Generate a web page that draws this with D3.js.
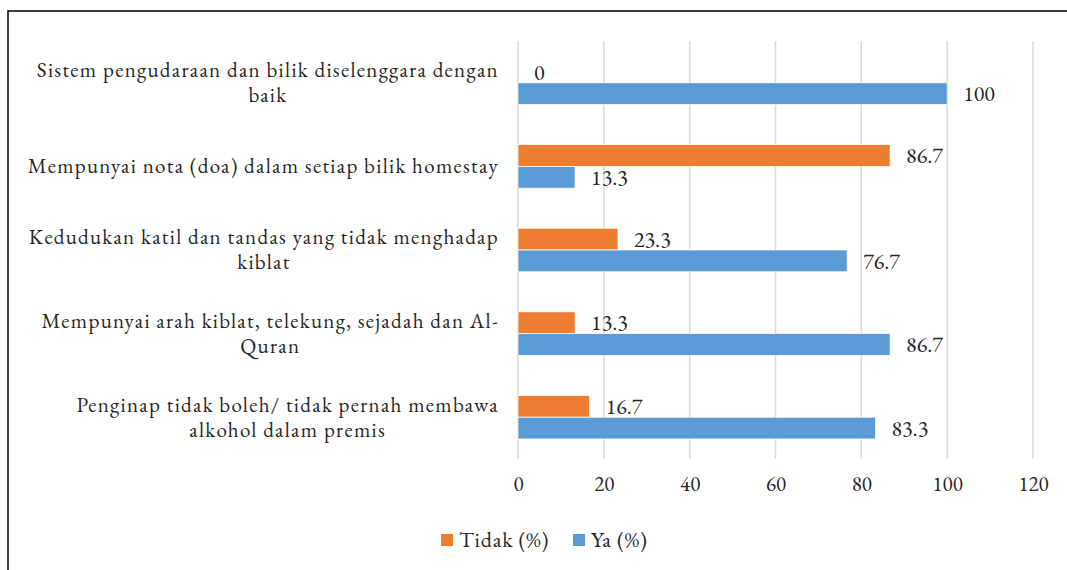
<!DOCTYPE html>
<html>
<head>
<meta charset="utf-8">
<script src="https://cdn.jsdelivr.net/npm/d3@7"></script>
<style>
  body { margin: 0; background: #fff; }
  text { font-family: "EB Garamond", Garamond, "Liberation Serif", "DejaVu Serif", serif; fill: #262626; }
</style>
</head>
<body>
<div id="chart"></div>
<script>
// Categories (top to bottom), each split into its wrapped lines
var categories = [
    ["Sistem pengudaraan dan bilik diselenggara dengan", "baik"],
    ["Mempunyai nota (doa) dalam setiap bilik homestay"],
    ["Kedudukan katil dan tandas yang tidak menghadap", "kiblat"],
    ["Mempunyai arah kiblat, telekung, sejadah dan Al-", "Quran"],
    ["Penginap tidak boleh/ tidak pernah membawa", "alkohol dalam premis"]
];
var tidak = [0, 86.7, 23.3, 13.3, 16.7];
var ya = [100, 13.3, 76.7, 86.7, 83.3];
var seriesNames = ["Tidak (%)", "Ya (%)"];
var seriesColors = ["#ed7d31", "#5b9bd5"];
var xTicks = [0, 20, 40, 60, 80, 100, 120];

var width = 1067, height = 570;
var svg = d3.select("#chart").append("svg")
    .attr("width", width)
    .attr("height", height);

// outer frame (left + top edges visible)
svg.append("path")
    .attr("d", "M8,570 L8,11 L1067,11")
    .style("fill", "none")
    .style("stroke", "#000")
    .style("stroke-width", 1.5);

var xScale = d3.scaleLinear().domain([0, 120]).range([518, 1033]);
var yScale = d3.scaleBand().domain(d3.range(categories.length)).range([41, 459]);
var inner = d3.scaleBand().domain([0, 1]).range([0, yScale.bandwidth()]).paddingOuter(0.92);

// gridlines
svg.append("g")
    .selectAll("line")
    .data(xTicks)
    .enter().append("line")
    .attr("x1", d => xScale(d)).attr("x2", d => xScale(d))
    .attr("y1", 41).attr("y2", 459)
    .style("stroke", "#d9d9d9")
    .style("stroke-width", 1.5);

// x axis tick labels
var xAxis = d3.axisBottom(xScale).tickValues(xTicks).tickSize(0).tickPadding(0);
var gx = svg.append("g").attr("transform", "translate(0,479)").call(xAxis);
gx.select(".domain").remove();
gx.selectAll("text")
    .style("font-size", "21px")
    .style("font-family", null)
    .attr("dy", "0.55em");

// bars
var series = [tidak, ya];
series.forEach(function(vals, s) {
    var g = svg.append("g");
    g.selectAll("rect")
        .data(vals)
        .enter().append("rect")
        .attr("x", xScale(0))
        .attr("y", (d, i) => yScale(i) + inner(s))
        .attr("width", d => xScale(d) - xScale(0))
        .attr("height", inner.bandwidth())
        .style("fill", seriesColors[s])
        .style("stroke", "#fff")
        .style("stroke-width", 0.75);
    g.selectAll("text")
        .data(vals)
        .enter().append("text")
        .attr("x", d => xScale(d) + 16)
        .attr("y", (d, i) => yScale(i) + inner(s) + inner.bandwidth() / 2)
        .attr("dy", "0.35em")
        .style("font-size", "22px")
        .text(d => d);
});

// category labels, centred lines in a right-aligned block
var lineH = 25;
categories.forEach(function(lines, i) {
    var cy = yScale(i) + yScale.bandwidth() / 2;
    var t = svg.append("g").selectAll("text").data(lines).enter().append("text")
        .attr("text-anchor", "middle")
        .style("font-size", "21px")
        .style("letter-spacing", "1.3px")
        .attr("y", (d, k) => cy + (k - (lines.length - 1) / 2) * lineH)
        .attr("dy", "0.33em")
        .text(d => d);
    var maxW = 0;
    t.each(function() { maxW = Math.max(maxW, this.getComputedTextLength()); });
    t.attr("x", 499 - maxW / 2);
});

// legend
var legendX = [441, 573];
seriesNames.forEach(function(name, s) {
    svg.append("rect")
        .attr("x", legendX[s]).attr("y", 534)
        .attr("width", 12).attr("height", 12)
        .style("fill", seriesColors[s]);
    svg.append("text")
        .attr("x", legendX[s] + 18).attr("y", 540)
        .attr("dy", "0.33em")
        .style("font-size", "22px")
        .style("letter-spacing", "0.8px")
        .text(name);
});
</script>
</body>
</html>
